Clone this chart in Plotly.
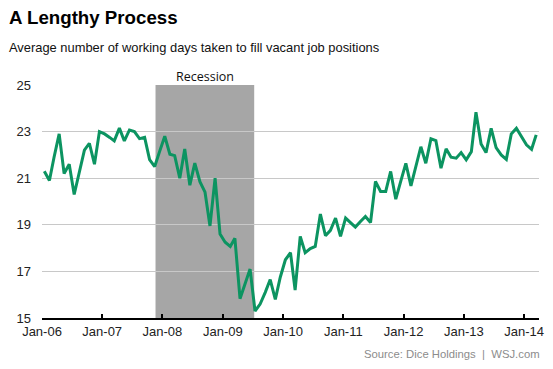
import plotly.graph_objects as go
import pandas as pd

# Monthly data, Jan 2006 - Mar 2014 (plotted mid-month)
start_month = "2006-01-15"
days_to_fill = [
    21.3, 20.9, 21.9, 22.9, 21.2, 21.6, 20.3, 21.3, 22.2, 22.5, 21.6, 23.0,   # 2006
    22.9, 22.75, 22.6, 23.15, 22.6, 23.07, 23.0, 22.7, 22.75, 21.8, 21.5, 22.15,  # 2007
    22.8, 22.03, 21.97, 21.0, 22.25, 20.7, 21.65, 20.85, 20.4, 18.95, 21.0, 18.6,  # 2008
    18.25, 18.07, 18.42, 15.83, 16.45, 17.1, 15.3, 15.6, 16.1, 16.65, 15.8, 16.75,  # 2009
    17.5, 17.8, 16.2, 18.5, 17.8, 17.98, 18.07, 19.46, 18.53, 18.76, 19.29, 18.5,  # 2010
    19.29, 19.1, 18.9, 19.14, 19.36, 19.1, 20.86, 20.43, 20.43, 21.29, 20.1, 20.86,  # 2011
    21.64, 20.67, 21.5, 22.35, 21.64, 22.69, 22.61, 21.43, 22.26, 21.9, 21.86, 22.1,  # 2012
    21.79, 22.14, 23.83, 22.47, 22.1, 23.14, 22.31, 22.0, 21.81, 22.9, 23.14, 22.79,  # 2013
    22.43, 22.24, 22.86,  # 2014
]
months = pd.date_range("2006-01-01", periods=len(days_to_fill), freq="MS") + pd.Timedelta(days=14)

y_ticks = [15, 17, 19, 21, 23, 25]
x_tick_dates = pd.date_range("2006-01-01", "2014-01-01", freq="YS")
x_tick_labels = [d.strftime("%b-%y") for d in x_tick_dates]

recession_start = "2007-11-20"
recession_end = "2009-07-10"

title = "A Lengthy Process"
subtitle = "Average number of working days taken to fill vacant job positions"
source = "Source: Dice Holdings &nbsp;|&nbsp; WSJ.com"

W, H = 553, 369
ml, mr, mt, mb = 42, 9, 85, 51
pw = W - ml - mr
ph = H - mt - mb

def px(x):
    return (x - ml) / pw

def py(y):
    return (H - mb - y) / ph

fig = go.Figure()
fig.add_trace(go.Scatter(
    x=months, y=days_to_fill, mode="lines",
    line=dict(color="#0c9461", width=3),
    hoverinfo="skip", showlegend=False,
))

fig.add_shape(type="rect", xref="x", yref="paper",
              x0=recession_start, x1=recession_end, y0=0, y1=1,
              fillcolor="#a6a6a6", line=dict(width=0), layer="between")

fig.add_annotation(x=pd.Timestamp(recession_start) + (pd.Timestamp(recession_end) - pd.Timestamp(recession_start)) / 2,
                   xref="x", yref="paper", y=1.0, yanchor="bottom", yshift=-2,
                   text="Recession", showarrow=False,
                   font=dict(family="Open Sans", size=12.5, color="#111"))

fig.add_annotation(xref="paper", yref="paper", x=px(7), y=py(18), xanchor="left", yanchor="middle",
                   text="<b>" + title + "</b>", showarrow=False,
                   font=dict(family="Liberation Sans, Arial", size=18.7, color="#000"))
fig.add_annotation(xref="paper", yref="paper", x=px(7), y=py(47), xanchor="left", yanchor="middle",
                   text=subtitle, showarrow=False,
                   font=dict(family="Liberation Sans, Arial", size=12.9, color="#111"))
fig.add_annotation(xref="paper", yref="paper", x=px(547), y=py(354), xanchor="right", yanchor="middle",
                   text=source, showarrow=False,
                   font=dict(family="Liberation Sans, Arial", size=11.3, color="#8c8c8c"))

fig.update_layout(
    width=W, height=H,
    margin=dict(l=ml, r=mr, t=mt, b=mb, pad=0),
    paper_bgcolor="white", plot_bgcolor="white",
    font=dict(family="Liberation Sans, Arial", size=13, color="#222"),
    xaxis=dict(
        type="date",
        range=["2006-01-01", "2014-04-01"],
        tickvals=x_tick_dates, ticktext=x_tick_labels,
        showgrid=False, zeroline=False,
        showline=True, linecolor="#000", linewidth=2,
        ticks="inside", ticklen=4, tickwidth=1.5, tickcolor="#000",
        tickfont=dict(size=13, color="#222"),
    ),
    yaxis=dict(
        range=[15, 25], tickvals=y_ticks,
        showgrid=True, gridcolor="#c8c8c8", gridwidth=1,
        zeroline=False, showline=False, ticks="",
        ticklabelstandoff=10,
        tickfont=dict(size=13, color="#222"),
    ),
)

fig.write_html("out.html", config={"displayModeBar": False},
               post_script="document.body.style.margin='0';")
